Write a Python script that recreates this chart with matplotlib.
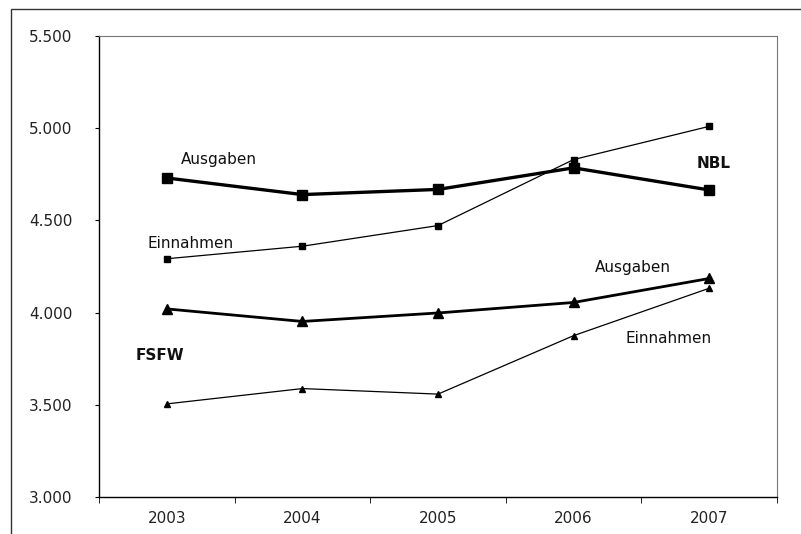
import matplotlib.pyplot as plt
from matplotlib.patches import Rectangle
from matplotlib.ticker import FuncFormatter, FixedLocator

# Data
years = ['2003', '2004', '2005', '2006', '2007']
nbl_ausgaben   = [4730, 4640, 4668, 4785, 4665]
nbl_einnahmen  = [4292, 4360, 4472, 4830, 5010]
fsfw_ausgaben  = [4020, 3952, 3998, 4055, 4185]
fsfw_einnahmen = [3505, 3588, 3558, 3875, 4132]

plt.rcParams['font.family'] = ['DejaVu Sans']

fig = plt.figure(figsize=(8.01, 5.34), dpi=100)

# outer chart frame (left + top border only visible)
fig.patches.append(Rectangle((11 / 801, -0.1), 1.2, 1 - 9 / 534 + 0.1,
                             transform=fig.transFigure, fill=False,
                             edgecolor='#333333', linewidth=1.0))

ax = fig.add_axes([99 / 801, 37 / 534, (777 - 99) / 801, (497 - 36) / 534])

x = list(range(len(years)))
ax.plot(x, nbl_ausgaben, color='black', linewidth=2.4, marker='s', markersize=7)
ax.plot(x, nbl_einnahmen, color='black', linewidth=0.9, marker='s', markersize=4)
ax.plot(x, fsfw_ausgaben, color='black', linewidth=2.0, marker='^', markersize=7.5)
ax.plot(x, fsfw_einnahmen, color='black', linewidth=0.9, marker='^', markersize=5)

ax.set_xlim(-0.5, len(years) - 0.5)
ax.set_ylim(3000, 5500)
ax.set_yticks([3000, 3500, 4000, 4500, 5000, 5500])
ax.yaxis.set_major_formatter(FuncFormatter(lambda v, p: f'{int(v):,}'.replace(',', '.')))

ax.set_xticks(x)
ax.set_xticklabels(years)
ax.tick_params(axis='x', which='major', length=0, pad=10, labelsize=11, colors='#222222')
ax.xaxis.set_minor_locator(FixedLocator([i - 0.5 for i in range(len(years) + 1)]))
ax.tick_params(axis='x', which='minor', length=4, direction='out', color='black')
ax.tick_params(axis='y', length=3, direction='out', pad=16, labelsize=11,
               colors='#222222')
ax.tick_params(axis='y', color='black')

for side in ['top', 'right']:
    ax.spines[side].set_color('#777777')
    ax.spines[side].set_linewidth(0.8)
for side in ['left', 'bottom']:
    ax.spines[side].set_color('black')
    ax.spines[side].set_linewidth(1.0)

# annotations
txt = dict(fontsize=11, va='center', ha='left', color='#111111')
ax.text(0.105, 4828, 'Ausgaben', **txt)
ax.text(-0.146, 4377, 'Einnahmen', **txt)
ax.text(3.91, 4811, 'NBL', fontweight='bold', **txt)
ax.text(3.158, 4247, 'Ausgaben', **txt)
ax.text(3.386, 3857, 'Einnahmen', **txt)
ax.text(-0.227, 3770, 'FSFW', fontweight='bold', **txt)

fig.savefig('out.png', dpi=100)
